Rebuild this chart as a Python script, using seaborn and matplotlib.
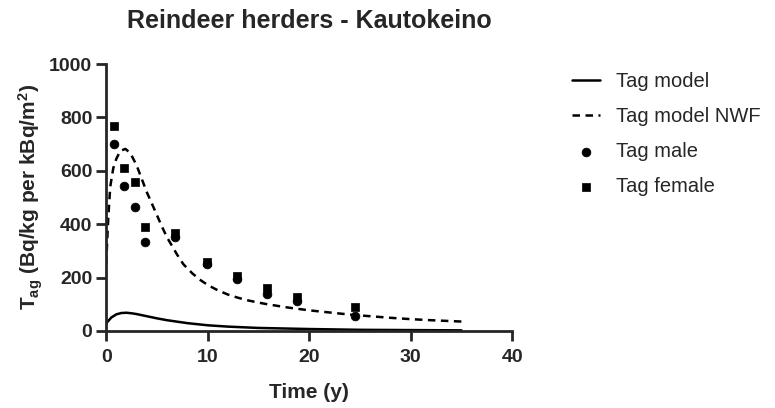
import numpy as np
import pandas as pd
import matplotlib
matplotlib.use("Agg")
import matplotlib.pyplot as plt
import seaborn as sns

# Model curves
model_x = [0, 0.5, 1, 1.5, 2, 2.5, 3, 4, 5, 6, 8, 10, 12, 15, 20, 25, 30, 35]
model_y = [28, 50, 62, 67, 68, 66, 63, 55, 47, 40, 29, 21, 16, 11, 7, 4, 3, 2]

nwf_x = [0, 0.2, 0.4, 0.7, 1.0, 1.4, 1.9, 2.4, 3.0, 3.5, 4.0, 4.7, 5.5, 6.0, 7.0, 7.6,
         8.5, 9.3, 10, 11, 12, 13, 14, 15, 16, 18, 20, 22, 24, 26, 28, 30, 32, 35]
nwf_y = [250, 420, 540, 610, 645, 675, 682, 665, 620, 570, 520, 460, 390, 350, 285, 250,
         215, 190, 172, 152, 136, 124, 114, 106, 99, 87, 77, 69, 61, 55, 49, 44, 40, 35]

# Observations
obs_x = [0.8, 1.8, 2.8, 3.8, 6.8, 9.9, 12.9, 15.8, 18.8, 24.5]
male_y = [700, 543, 463, 332, 353, 250, 195, 137, 112, 56]
female_y = [768, 612, 558, 390, 368, 260, 206, 161, 127, 89]

sns.set_style("ticks")
plt.rcParams["font.family"] = ["Liberation Sans", "DejaVu Sans"]
plt.rcParams["mathtext.default"] = "regular"

fig = plt.figure(figsize=(7.75, 4.08), dpi=100)
ax = fig.add_axes([0.137, 0.189, 0.524, 0.654])

sns.lineplot(x=model_x, y=model_y, ax=ax, color="black", linewidth=1.8, label="Tag model")
sns.lineplot(x=nwf_x, y=nwf_y, ax=ax, color="black", linewidth=1.8, linestyle=(0, (3, 2.2)),
             label="Tag model NWF")
sns.scatterplot(x=obs_x, y=male_y, ax=ax, color="black", marker="o", s=40, edgecolor="black",
                label="Tag male", zorder=3)
sns.scatterplot(x=obs_x, y=female_y, ax=ax, color="black", marker="s", s=40, edgecolor="black",
                label="Tag female", zorder=3)

ax.set_xlim(0, 40)
ax.set_ylim(0, 1000)
ax.set_xticks([0, 10, 20, 30, 40])
ax.set_yticks([0, 200, 400, 600, 800, 1000])
sns.despine(ax=ax)
for s in ["left", "bottom"]:
    ax.spines[s].set_linewidth(2)
ax.tick_params(width=2, length=7, labelsize=14, direction="out")
ax.tick_params(axis="x", pad=6)
ax.tick_params(axis="y", pad=3)
for lab in ax.get_xticklabels() + ax.get_yticklabels():
    lab.set_fontweight("bold")

ax.set_xlabel("Time (y)", fontsize=15, fontweight="bold", labelpad=12)
ax.set_ylabel("T$_{ag}$ (Bq/kg per kBq/m$^{2}$)", fontsize=15, fontweight="bold", labelpad=3)
ax.set_title("Reindeer herders - Kautokeino", fontsize=18, fontweight="bold", pad=26)

handles, labels = ax.get_legend_handles_labels()
if ax.legend_:
    ax.legend_.remove()
fig.legend(handles, labels, loc="upper left", bbox_to_anchor=(0.715, 0.868), frameon=False,
           fontsize=14.5, handlelength=1.4, labelspacing=0.8, handletextpad=0.75)

fig.savefig("out.png", dpi=100)
